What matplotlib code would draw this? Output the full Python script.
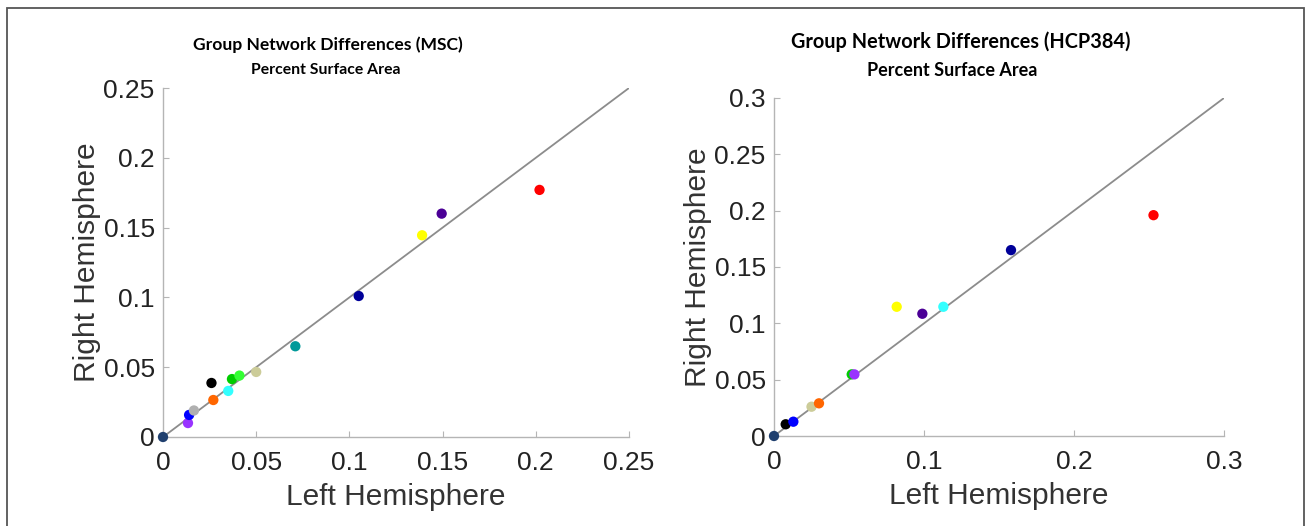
import numpy as np
import matplotlib.pyplot as plt
from matplotlib.patches import Rectangle

# MSC group: left / right hemisphere percent surface area per network
msc_colors = [
    "#1f3f6e", "#9933ff", "#0000ff", "#b0b0b0", "#ff6600", "#000000",
    "#33ffff", "#00cc00", "#33ff33", "#cccc99", "#009999", "#000099",
    "#ffff00", "#4b0096", "#ff0000",
]
msc_left = [
    0.0, 0.0134, 0.014, 0.0166, 0.027, 0.026,
    0.035, 0.037, 0.041, 0.050, 0.071, 0.105,
    0.139, 0.1495, 0.202,
]
msc_right = [
    0.0, 0.010, 0.0158, 0.019, 0.0265, 0.0387,
    0.033, 0.0415, 0.044, 0.0466, 0.065, 0.101,
    0.1445, 0.160, 0.177,
]

# HCP384 group
hcp_colors = [
    "#1f3f6e", "#000000", "#0000ff", "#cccc99", "#ff6600", "#00cc00",
    "#9933ff", "#ffff00", "#4b0096", "#33ffff", "#000099", "#ff0000",
]
hcp_left = [
    0.0, 0.0078, 0.0129, 0.025, 0.030, 0.0518,
    0.0536, 0.0818, 0.0989, 0.1129, 0.158, 0.253,
]
hcp_right = [
    0.0, 0.0104, 0.0127, 0.026, 0.029, 0.0547,
    0.0547, 0.1147, 0.1085, 0.1147, 0.165, 0.196,
]

msc_ticks = [0, 0.05, 0.1, 0.15, 0.2, 0.25]
msc_labels = ["0", "0.05", "0.1", "0.15", "0.2", "0.25"]
hcp_ticks = [0, 0.05, 0.1, 0.15, 0.2, 0.25, 0.3]
hcp_labels = ["0", "0.05", "0.1", "0.15", "0.2", "0.25", "0.3"]
hcp_xticks = [0, 0.1, 0.2, 0.3]
hcp_xlabels = ["0", "0.1", "0.2", "0.3"]

plt.rcParams["font.family"] = ["Liberation Sans", "DejaVu Sans"]

fig = plt.figure(figsize=(13.11, 5.26), dpi=100)

fig.patches.append(
    Rectangle(
        (7 / 1311, -0.1),
        1297 / 1311,
        1.1 - 8 / 526,
        transform=fig.transFigure,
        fill=False,
        edgecolor="#555555",
        linewidth=1.3,
    )
)


def style_axes(ax, lim, xticks, xlabels, yticks, ylabels):

    ax.set_xlim(0, lim)
    ax.set_ylim(0, lim)
    ax.plot([0, lim], [0, lim], color="#8c8c8c", linewidth=1.3, zorder=1)

    for side in ["top", "right"]:
        ax.spines[side].set_visible(False)
    for side in ["left", "bottom"]:
        ax.spines[side].set_color("#b5b5b5")
        ax.spines[side].set_linewidth(1.0)

    ax.set_xticks(xticks)
    ax.set_xticklabels(xlabels)
    ax.set_yticks(yticks)
    ax.set_yticklabels(ylabels)
    ax.tick_params(
        direction="in",
        length=4,
        width=0.8,
        color="#b5b5b5",
        labelsize=19,
        labelcolor="#222222",
        pad=6,
    )
    ax.tick_params(axis="x", pad=10)
    ax.set_xlabel("Left Hemisphere", fontsize=21.5, color="#333333",
                  labelpad=6)
    ax.set_ylabel("Right Hemisphere", fontsize=21.5, color="#333333",
                  labelpad=2)


ax1 = fig.add_axes([163 / 1311, 1 - 437 / 526, 466 / 1311, 349 / 526])
style_axes(ax1, 0.25, msc_ticks, msc_labels, msc_ticks, msc_labels)
ax1.scatter(msc_left, msc_right, c=msc_colors, s=55, zorder=3,
            clip_on=False, linewidths=0)

ax2 = fig.add_axes([774 / 1311, 1 - 436 / 526, 450 / 1311, 338 / 526])
style_axes(ax2, 0.3, hcp_xticks, hcp_xlabels, hcp_ticks, hcp_labels)
ax2.scatter(hcp_left, hcp_right, c=hcp_colors, s=55, zorder=3,
            clip_on=False, linewidths=0)

title_font = ["Lato", "DejaVu Sans"]

fig.text(328 / 1311, 1 - 45 / 526, "Group Network Differences (MSC)",
         ha="center", va="center", fontsize=12.6, fontweight="bold",
         family=title_font)
fig.text(326 / 1311, 1 - 70 / 526, "Percent Surface Area",
         ha="center", va="center", fontsize=11.3, fontweight="bold",
         family=title_font)
fig.text(961 / 1311, 1 - 42 / 526, "Group Network Differences (HCP384)",
         ha="center", va="center", fontsize=14.3, fontweight="bold",
         family=title_font)
fig.text(952 / 1311, 1 - 70 / 526, "Percent Surface Area",
         ha="center", va="center", fontsize=13.0, fontweight="bold",
         family=title_font)

fig.savefig("out.png", dpi=100)
